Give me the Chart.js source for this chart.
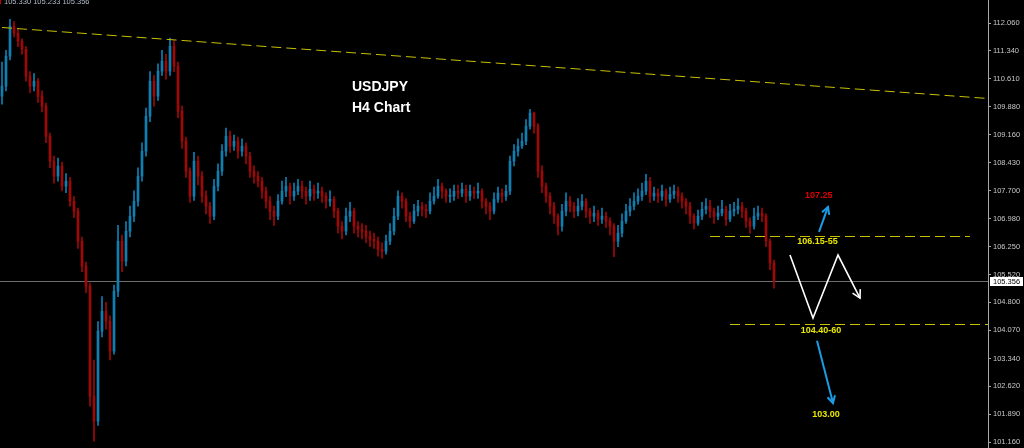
<!DOCTYPE html>
<html>
<head>
<meta charset="utf-8">
<script src="https://cdn.jsdelivr.net/npm/chart.js@4.4.0/dist/chart.umd.min.js"></script>
<style>
  html, body { margin: 0; padding: 0; background: #000; }
  #wrap { width: 1024px; height: 448px; }
</style>
</head>
<body>
<div id="wrap"><canvas id="chart"></canvas></div>
<script>
// USDJPY H4 candles (open / high / low / close)
const opens = [
  110.16,110.42,111.20,111.98,111.80,111.59,111.38,110.68,110.42,110.55,
  110.16,109.90,109.12,108.47,108.08,108.34,107.82,107.95,107.43,107.17,
  106.39,105.74,105.22,102.36,101.71,104.05,104.57,104.31,103.53,105.09,
  106.39,105.87,106.65,107.04,107.43,108.08,108.73,109.64,110.55,110.16,
  110.81,111.07,110.81,111.46,110.94,109.77,108.99,108.21,107.56,108.47,
  108.08,107.56,107.30,107.04,107.82,108.21,108.73,109.12,108.86,108.99,
  108.73,108.86,108.60,108.21,108.08,107.95,107.69,107.43,107.17,107.04,
  107.43,107.69,107.82,107.56,107.69,107.82,107.69,107.56,107.74,107.64,
  107.69,107.56,107.43,107.48,107.17,106.78,106.65,107.04,107.17,106.78,
  106.70,106.65,106.52,106.44,106.39,106.18,106.13,106.39,106.65,107.04,
  107.56,107.43,107.04,106.91,107.17,107.30,107.22,107.17,107.43,107.56,
  107.82,107.69,107.56,107.56,107.69,107.64,107.74,107.56,107.69,107.64,
  107.69,107.43,107.30,107.17,107.48,107.64,107.56,107.69,108.47,108.73,
  108.86,108.99,109.38,109.72,109.38,108.21,107.82,107.56,107.30,107.04,
  106.78,107.17,107.43,107.30,107.17,107.30,107.43,107.17,107.04,107.12,
  106.96,107.04,106.91,106.78,106.39,106.60,106.91,107.17,107.30,107.43,
  107.56,107.69,107.95,107.56,107.64,107.56,107.69,107.48,107.61,107.69,
  107.56,107.43,107.30,107.04,106.86,107.04,107.22,107.30,107.17,107.04,
  107.12,107.22,106.96,107.17,107.22,107.30,107.17,106.91,106.78,107.04,
  107.12,107.04,106.39,105.82
];
const closes = [
  110.42,111.20,111.98,111.80,111.59,111.38,110.68,110.42,110.55,110.16,
  109.90,109.12,108.47,108.08,108.34,107.82,107.95,107.43,107.17,106.39,
  105.74,105.22,102.36,101.71,104.05,104.57,104.31,103.53,105.09,106.39,
  105.87,106.65,107.04,107.43,108.08,108.73,109.64,110.55,110.16,110.81,
  111.07,110.81,111.46,110.94,109.77,108.99,108.21,107.56,108.47,108.08,
  107.56,107.30,107.04,107.82,108.21,108.73,109.12,108.86,108.99,108.73,
  108.86,108.60,108.21,108.08,107.95,107.69,107.43,107.17,107.04,107.43,
  107.69,107.82,107.56,107.69,107.82,107.69,107.56,107.74,107.64,107.69,
  107.56,107.43,107.48,107.17,106.78,106.65,107.04,107.17,106.78,106.70,
  106.65,106.52,106.44,106.39,106.18,106.13,106.39,106.65,107.04,107.56,
  107.43,107.04,106.91,107.17,107.30,107.22,107.17,107.43,107.56,107.82,
  107.69,107.56,107.56,107.69,107.64,107.74,107.56,107.69,107.64,107.69,
  107.43,107.30,107.17,107.48,107.64,107.56,107.69,108.47,108.73,108.86,
  108.99,109.38,109.72,109.38,108.21,107.82,107.56,107.30,107.04,106.78,
  107.17,107.43,107.30,107.17,107.30,107.43,107.17,107.04,107.12,106.96,
  107.04,106.91,106.78,106.39,106.60,106.91,107.17,107.30,107.43,107.56,
  107.69,107.95,107.56,107.64,107.56,107.69,107.48,107.61,107.69,107.56,
  107.43,107.30,107.04,106.86,107.04,107.22,107.30,107.17,107.04,107.12,
  107.22,106.96,107.17,107.22,107.30,107.17,106.91,106.78,107.04,107.12,
  107.04,106.39,105.82,105.356
];
const highs = [
  111.05,111.35,112.16,112.10,111.90,111.65,111.45,110.80,110.75,110.62,
  110.30,109.98,109.20,108.60,108.55,108.45,108.15,108.05,107.55,107.25,
  106.50,105.85,105.30,103.30,104.30,104.95,104.80,104.45,105.25,106.80,
  106.55,106.90,107.30,107.70,108.30,108.95,109.85,110.80,110.70,111.00,
  111.35,111.25,111.67,111.60,111.05,109.90,109.10,108.30,108.70,108.60,
  108.20,107.70,107.40,108.00,108.40,108.90,109.33,109.25,109.15,109.10,
  109.05,108.95,108.70,108.35,108.20,108.05,107.80,107.55,107.30,107.60,
  107.95,108.05,107.90,107.90,108.00,107.95,107.80,107.95,107.85,107.90,
  107.80,107.65,107.70,107.55,107.25,106.90,107.25,107.40,107.25,106.90,
  106.85,106.80,106.65,106.60,106.50,106.35,106.55,106.85,107.25,107.70,
  107.65,107.50,107.15,107.35,107.45,107.40,107.35,107.65,107.80,108.00,
  107.90,107.75,107.75,107.85,107.85,107.90,107.85,107.85,107.80,107.90,
  107.75,107.50,107.40,107.65,107.80,107.75,107.85,108.60,108.90,109.05,
  109.20,109.55,109.82,109.75,109.45,108.35,107.90,107.65,107.40,107.10,
  107.35,107.65,107.55,107.40,107.50,107.60,107.50,107.25,107.30,107.20,
  107.25,107.15,107.00,106.85,106.80,107.10,107.35,107.50,107.65,107.75,
  107.90,108.13,108.05,107.80,107.75,107.85,107.75,107.80,107.85,107.80,
  107.65,107.50,107.40,107.10,107.20,107.40,107.50,107.45,107.25,107.30,
  107.45,107.30,107.35,107.40,107.50,107.40,107.25,107.00,107.25,107.30,
  107.25,107.10,106.45,105.90
];
const lows = [
  109.95,110.30,111.10,111.70,111.45,111.25,110.55,110.25,110.30,110.00,
  109.75,108.95,108.30,107.90,107.95,107.70,107.65,107.30,107.00,106.20,
  105.60,105.05,102.10,101.19,101.60,103.90,104.10,103.30,103.45,104.95,
  105.60,105.75,106.50,106.90,107.30,107.95,108.60,109.50,109.90,110.05,
  110.70,110.60,110.70,110.80,109.60,108.80,108.05,107.40,107.45,107.85,
  107.40,107.10,106.85,106.95,107.70,108.10,108.60,108.70,108.75,108.55,
  108.60,108.40,108.05,107.90,107.80,107.50,107.25,106.95,106.80,106.95,
  107.35,107.55,107.35,107.45,107.60,107.50,107.35,107.45,107.45,107.50,
  107.40,107.25,107.30,107.00,106.60,106.45,106.55,106.90,106.60,106.50,
  106.45,106.35,106.25,106.20,106.00,105.95,106.05,106.30,106.55,106.95,
  107.25,106.90,106.75,106.85,107.05,107.05,107.00,107.10,107.35,107.50,
  107.50,107.40,107.40,107.45,107.50,107.55,107.40,107.45,107.50,107.50,
  107.25,107.10,106.95,107.10,107.40,107.40,107.45,107.60,108.35,108.60,
  108.80,108.90,109.30,109.20,108.05,107.65,107.40,107.10,106.85,106.55,
  106.65,107.05,107.15,107.00,107.05,107.20,107.00,106.85,106.90,106.80,
  106.85,106.75,106.55,105.99,106.25,106.50,106.85,107.05,107.20,107.35,
  107.45,107.60,107.40,107.45,107.40,107.45,107.30,107.40,107.50,107.40,
  107.25,107.10,106.85,106.70,106.80,106.95,107.10,107.00,106.85,106.95,
  107.05,106.80,106.90,107.05,107.10,107.00,106.75,106.60,106.70,106.95,
  106.90,106.25,105.65,105.17
];

// price axis labels as printed by the terminal
const priceTicks = [112.060,111.340,110.610,109.880,109.160,108.430,107.700,106.980,
  106.250,105.520,104.800,104.070,103.340,102.620,101.890,101.160];
const lastPrice = 105.356;
const quoteLine = '105.330 105.233 105.356';

// drawn analysis: [bar index, price]
const trendTop = [[0, 111.96], [246.5, 110.12]];
const levelUpper = [[177, 106.53], [242, 106.53]];
const levelLower = [[182, 104.25], [246.5, 104.25]];
const zigzag = [[197, 106.03], [202.75, 104.39], [209, 106.03], [214.5, 104.91]];
const arrowUp = [[204.25, 106.63], [206.5, 107.28]];
const arrowDown = [[203.75, 103.80], [207.75, 102.18]];
const levelLabels = [
  { text: '107.25', at: [204.2, 107.58], color: '#e00000' },
  { text: '106.15-55', at: [203.9, 106.37], color: '#e8e800' },
  { text: '104.40-60', at: [204.75, 104.06], color: '#e8e800' },
  { text: '103.00', at: [206, 101.88], color: '#e8e800' }
];
const titleLines = [
  { text: 'USDJPY', at: [87.5, 110.40] },
  { text: 'H4 Chart', at: [87.5, 109.84] }
];

const UP = '#0f7fb2';
const DOWN = '#a00808';
const candleColors = closes.map((c, i) => c >= opens[i] ? UP : DOWN);

const wicks = closes.map((c, i) => ({ x: i, y: [lows[i], highs[i]] }));
const bodies = closes.map((c, i) => ({ x: i, y: [opens[i], c] }));

function px(chart, p) {
  return [chart.scales.x.getPixelForValue(p[0]), chart.scales.y.getPixelForValue(p[1])];
}

// snap to the pixel grid so 1px lines stay crisp
function snap(p) {
  return [p[0], Math.round(p[1]) + 0.5];
}

function polyline(ctx, pts) {
  ctx.beginPath();
  pts.forEach((p, i) => i ? ctx.lineTo(p[0], p[1]) : ctx.moveTo(p[0], p[1]));
  ctx.stroke();
}

function arrowHead(ctx, from, to, size) {
  const a = Math.atan2(to[1] - from[1], to[0] - from[0]);
  ctx.beginPath();
  ctx.moveTo(to[0] - size * Math.cos(a - 0.5), to[1] - size * Math.sin(a - 0.5));
  ctx.lineTo(to[0], to[1]);
  ctx.lineTo(to[0] - size * Math.cos(a + 0.5), to[1] - size * Math.sin(a + 0.5));
  ctx.stroke();
}

const backdrop = {
  id: 'backdrop',
  beforeDraw(chart) {
    const ctx = chart.ctx;
    ctx.save();
    ctx.fillStyle = '#000';
    ctx.fillRect(0, 0, chart.width, chart.height);
    ctx.restore();
  },
  beforeDatasetsDraw(chart) {
    const ctx = chart.ctx;
    const area = chart.chartArea;
    ctx.save();
    // current price line
    const y = Math.round(chart.scales.y.getPixelForValue(lastPrice)) + 0.5;
    ctx.strokeStyle = '#6e6e6e';
    ctx.lineWidth = 1;
    ctx.beginPath();
    ctx.moveTo(area.left, y);
    ctx.lineTo(area.right, y);
    ctx.stroke();
    ctx.restore();
  }
};

const drawings = {
  id: 'drawings',
  afterDatasetsDraw(chart) {
    const ctx = chart.ctx;
    const area = chart.chartArea;
    ctx.save();
    ctx.beginPath();
    ctx.rect(area.left, area.top, area.right - area.left, area.bottom - area.top);
    ctx.clip();

    // dashed levels
    ctx.strokeStyle = '#c8c000';
    ctx.lineWidth = 1;
    ctx.setLineDash([10, 5]);
    [trendTop, levelUpper, levelLower].forEach(l => polyline(ctx, l.map(p => snap(px(chart, p)))));
    ctx.setLineDash([]);

    // expected path
    ctx.strokeStyle = '#ffffff';
    ctx.lineWidth = 1.6;
    const zz = zigzag.map(p => px(chart, p));
    polyline(ctx, zz);
    arrowHead(ctx, zz[zz.length - 2], zz[zz.length - 1], 9);

    ctx.strokeStyle = '#1c9be6';
    ctx.lineWidth = 2;
    [arrowUp, arrowDown].forEach(a => {
      const pts = a.map(p => px(chart, p));
      polyline(ctx, pts);
      arrowHead(ctx, pts[0], pts[1], 8);
    });

    // level captions
    ctx.font = 'bold 9px "Liberation Sans", Arial, sans-serif';
    ctx.textAlign = 'center';
    ctx.textBaseline = 'middle';
    levelLabels.forEach(l => {
      const p = px(chart, l.at);
      ctx.fillStyle = l.color;
      ctx.fillText(l.text, p[0], p[1]);
    });

    // title
    ctx.font = 'bold 14px "Liberation Sans", Arial, sans-serif';
    ctx.textAlign = 'left';
    ctx.fillStyle = '#ffffff';
    titleLines.forEach(t => {
      const p = px(chart, t.at);
      ctx.fillText(t.text, p[0], p[1]);
    });
    ctx.restore();

    // quote line at the top, cut by the window edge
    ctx.save();
    ctx.font = '7.5px "Liberation Sans", Arial, sans-serif';
    ctx.fillStyle = '#b4bccb';
    ctx.textBaseline = 'alphabetic';
    ctx.fillText(quoteLine, 4, 3.5);
    ctx.fillStyle = '#c00000';
    ctx.fillRect(0, 0, 1, 4);
    ctx.restore();
  },
  afterDraw(chart) {
    // last price tag on the axis
    const ctx = chart.ctx;
    const area = chart.chartArea;
    const y = Math.round(chart.scales.y.getPixelForValue(lastPrice));
    ctx.save();
    ctx.fillStyle = '#ffffff';
    ctx.fillRect(area.right + 2, y - 4, 33, 9);
    ctx.fillStyle = '#000000';
    ctx.font = '7.5px "Liberation Sans", Arial, sans-serif';
    ctx.textAlign = 'left';
    ctx.textBaseline = 'middle';
    ctx.fillText(lastPrice.toFixed(3), area.right + 5, y + 0.5);
    ctx.restore();
  }
};

new Chart(document.getElementById('chart'), {
  type: 'bar',
  data: {
    datasets: [
      {
        label: 'wick',
        data: wicks,
        backgroundColor: candleColors,
        barThickness: 1,
        grouped: false,
        order: 2
      },
      {
        label: 'body',
        data: bodies,
        backgroundColor: candleColors,
        barThickness: 2,
        minBarLength: 1,
        grouped: false,
        order: 1
      }
    ]
  },
  options: {
    responsive: true,
    maintainAspectRatio: false,
    animation: false,
    layout: { padding: 0 },
    plugins: {
      legend: { display: false },
      tooltip: { enabled: false }
    },
    scales: {
      x: {
        type: 'linear',
        min: -0.5,
        max: 246.5,
        offset: false,
        grid: { offset: false },
        display: false
      },
      y: {
        position: 'right',
        min: 101.013,
        max: 112.661,
        border: { display: true, color: '#a8a8a8', width: 1 },
        grid: { drawOnChartArea: false, drawTicks: true, tickLength: 3, tickColor: '#a8a8a8' },
        ticks: {
          color: '#c8c8c8',
          padding: 2,
          autoSkip: false,
          font: { family: '"Liberation Sans", Arial, sans-serif', size: 7.5 },
          callback: v => Number(v).toFixed(3)
        },
        afterBuildTicks: scale => {
          scale.ticks = priceTicks.map(v => ({ value: v }));
        },
        afterFit: scale => {
          scale.width = 36;
          scale.paddingTop = 0;
          scale.paddingBottom = 0;
        }
      }
    }
  },
  plugins: [backdrop, drawings]
});
</script>
</body>
</html>
